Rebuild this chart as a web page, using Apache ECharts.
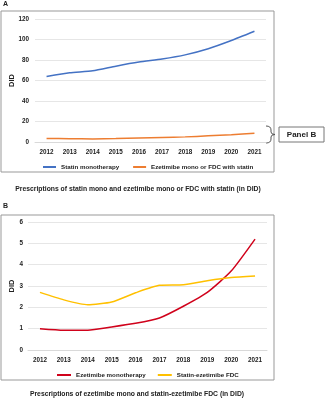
<!DOCTYPE html>
<html>
<head>
<meta charset="utf-8">
<script src="https://cdn.jsdelivr.net/npm/echarts@6/dist/echarts.min.js"></script>
<style>
  html, body { margin: 0; padding: 0; background: #fff; }
  #chart { width: 325px; height: 400px; }
</style>
</head>
<body>
<div id="chart"></div>
<script>
// data
const years = ['2012', '2013', '2014', '2015', '2016', '2017', '2018', '2019', '2020', '2021'];
const statinMono = [64, 67.5, 69.5, 74, 78, 81, 85, 91, 99, 108];
const ezeOrFdc = [3.5, 3.2, 3.0, 3.3, 4.0, 4.5, 5.0, 6.0, 7.0, 8.5];
const ezeMono = [1.0, 0.93, 0.93, 1.08, 1.25, 1.5, 2.05, 2.7, 3.7, 5.2];
const statinEzeFdc = [2.7, 2.35, 2.12, 2.25, 2.68, 3.03, 3.06, 3.25, 3.4, 3.47];

const font = 'Liberation Sans, Arial, sans-serif';
const tickStyle = { fontSize: 6.3, fontWeight: 'bold', color: '#222', fontFamily: font };
const legendText = { fontSize: 6.2, fontWeight: 'bold', color: '#222', fontFamily: font };

function xAxis(gridIndex) {
    return {
        type: 'category', gridIndex: gridIndex, data: years,
        axisLine: { lineStyle: { color: '#d9d9d9' } },
        axisTick: { show: false },
        axisLabel: Object.assign({ margin: 7 }, tickStyle)
    };
}

function yAxis(gridIndex, max, interval, gap, margin) {
    return {
        type: 'value', gridIndex: gridIndex, min: 0, max: max, interval: interval,
        name: 'DID', nameLocation: 'middle', nameGap: gap, nameMoveOverlap: false,
        nameTextStyle: { fontSize: 7.5, fontWeight: 'bold', color: '#222', fontFamily: font },
        axisLine: { show: false },
        axisTick: { show: false },
        splitLine: { lineStyle: { color: '#e6e6e6' } },
        axisLabel: Object.assign({ margin: margin }, tickStyle)
    };
}

function line(name, data, color, idx) {
    return {
        name: name, type: 'line', data: data, smooth: 0.2, symbol: 'none',
        xAxisIndex: idx, yAxisIndex: idx,
        lineStyle: { width: 1.5, color: color }, itemStyle: { color: color }
    };
}

// curly brace pieces next to panel A
const braceStyle = { stroke: '#555', lineWidth: 1, fill: 'none' };
function curve(x1, y1, cx, cy, x2, y2) {
    return { type: 'bezierCurve', shape: { x1: x1, y1: y1, cpx1: cx, cpy1: cy, x2: x2, y2: y2 }, style: braceStyle };
}

const chart = echarts.init(document.getElementById('chart'));
chart.setOption({
    animation: false,
    grid: [
        { left: 35, right: 59, top: 19, height: 123, outerBoundsMode: 'none', containLabel: false },
        { left: 28, right: 58, top: 222, height: 128, outerBoundsMode: 'none', containLabel: false }
    ],
    xAxis: [xAxis(0), xAxis(1)],
    yAxis: [yAxis(0, 120, 20, 19, 6), yAxis(1, 6, 1, 12, 5)],
    legend: [
        {
            data: ['Statin monotherapy', 'Ezetimibe mono or FDC with statin'],
            left: 38, top: 159, itemWidth: 13, itemHeight: 2, itemGap: 14,
            icon: 'rect',
            textStyle: legendText
        },
        {
            data: ['Ezetimibe monotherapy', 'Statin-ezetimibe FDC'],
            left: 52, top: 367, itemWidth: 14, itemHeight: 2, itemGap: 12,
            icon: 'rect',
            textStyle: legendText
        }
    ],
    series: [
        line('Statin monotherapy', statinMono, '#4472C4', 0),
        line('Ezetimibe mono or FDC with statin', ezeOrFdc, '#ED7D31', 0),
        line('Ezetimibe monotherapy', ezeMono, '#D0021B', 1),
        line('Statin-ezetimibe FDC', statinEzeFdc, '#FFC000', 1)
    ],
    graphic: [
        { type: 'text', left: 3, top: 1, style: { text: 'A', font: 'bold 7px ' + font, fill: '#222' } },
        { type: 'rect', shape: { x: 1, y: 11, width: 273, height: 161 }, style: { fill: 'none', stroke: '#999', lineWidth: 1 }, z: -1 },
        { type: 'text', x: 138, y: 189, style: { text: 'Prescriptions of statin mono and ezetimibe mono or FDC with statin (in DID)', font: 'bold 6.8px ' + font, fill: '#222', align: 'center', verticalAlign: 'middle' } },
        curve(266, 126, 271, 126, 271, 130),
        { type: 'line', shape: { x1: 271, y1: 130, x2: 271, y2: 132 }, style: braceStyle },
        curve(271, 132, 271, 134.5, 275, 134.5),
        curve(275, 134.5, 271, 134.5, 271, 137),
        { type: 'line', shape: { x1: 271, y1: 137, x2: 271, y2: 139 }, style: braceStyle },
        curve(271, 139, 271, 143, 266, 143),
        { type: 'rect', shape: { x: 279, y: 127, width: 45, height: 15 }, style: { fill: '#fff', stroke: '#777', lineWidth: 1 } },
        { type: 'text', x: 301.5, y: 134.5, style: { text: 'Panel B', font: 'bold 8px ' + font, fill: '#222', align: 'center', verticalAlign: 'middle' } },
        { type: 'text', left: 3, top: 203, style: { text: 'B', font: 'bold 7px ' + font, fill: '#222' } },
        { type: 'rect', shape: { x: 1, y: 215, width: 273, height: 165 }, style: { fill: 'none', stroke: '#999', lineWidth: 1 }, z: -1 },
        { type: 'text', x: 137, y: 394, style: { text: 'Prescriptions of ezetimibe mono and statin-ezetimibe FDC (in DID)', font: 'bold 6.8px ' + font, fill: '#222', align: 'center', verticalAlign: 'middle' } }
    ]
});
</script>
</body>
</html>
